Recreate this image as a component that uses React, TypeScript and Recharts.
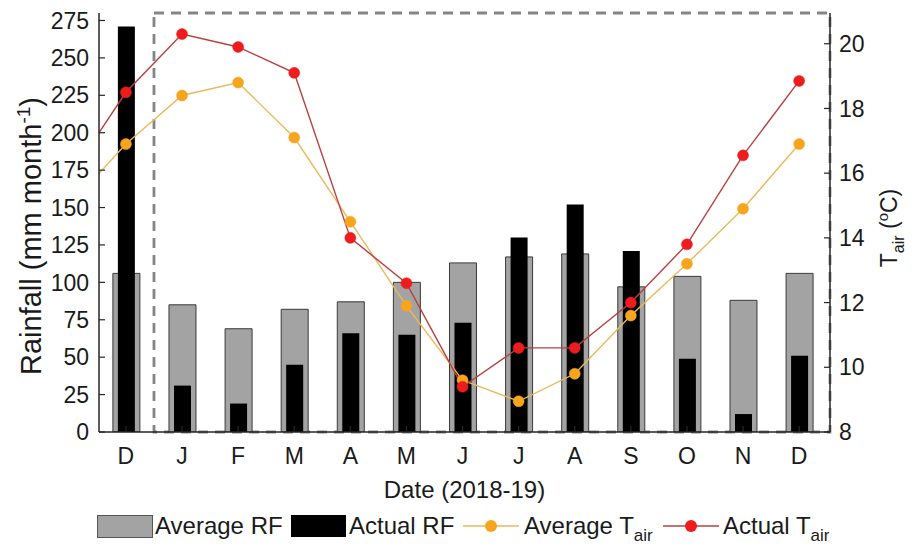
import React from 'react';
import {
  ComposedChart, Bar, Line, XAxis, YAxis, ReferenceArea, Legend, Label,
} from 'recharts';

// ---- data ----
const monthLabels = ['D', 'J', 'F', 'M', 'A', 'M', 'J', 'J', 'A', 'S', 'O', 'N', 'D'];
const monthIndex = [-1, 0, 1, 2, 3, 4, 5, 6, 7, 8, 9, 10, 11, 12]; // -1 = Nov 2017 (only the line stub)
const averageRF = [null, 106, 85, 69, 82, 87, 100, 113, 117, 119, 97, 104, 88, 106];
const actualRF = [null, 271, 31, 19, 45, 66, 65, 73, 130, 152, 121, 49, 12, 51];
const averageTair = [15.0, 16.9, 18.4, 18.8, 17.1, 14.5, 11.9, 9.6, 8.95, 9.8, 11.6, 13.2, 14.9, 16.9];
const actualTair = [15.9, 18.5, 20.3, 19.9, 19.1, 14.0, 12.6, 9.4, 10.6, 10.6, 12.0, 13.8, 16.55, 18.85];
const rfTicks = [0, 25, 50, 75, 100, 125, 150, 175, 200, 225, 250, 275];
const tTicks = [8, 10, 12, 14, 16, 18, 20];
const xTicks = [0, 1, 2, 3, 4, 5, 6, 7, 8, 9, 10, 11, 12];

const rows = monthIndex.map((x, i) => ({
  x,
  avgRF: averageRF[i],
  actRF: actualRF[i],
  avgT: averageTair[i],
  actT: actualTair[i],
}));

const FONT = '"Liberation Sans", Arial, Helvetica, sans-serif';
const TXT = '#1a1a1a';
const AXIS = '#262626';
const GREY = '#a3a3a3';
const ORANGE_DOT = '#f6a51c';
const ORANGE_LINE = '#eab95a';
const RED_DOT = '#ee1c1c';
const RED_LINE = '#b8413f';
const X_DOMAIN: [number, number] = [-0.48, 12.55];

const LeftTitle = () => (
  <text
    transform="translate(41, 236) rotate(-90)"
    textAnchor="middle"
    fontSize={29}
    fontFamily={FONT}
    fill={TXT}
  >
    Rainfall (mm month
    <tspan dy={-11} fontSize={19}>-1</tspan>
    <tspan dy={11}>)</tspan>
  </text>
);

const RightTitle = () => (
  <text
    transform="translate(897, 228) rotate(-90)"
    textAnchor="middle"
    fontSize={23}
    fontFamily={FONT}
    fill={TXT}
  >
    T<tspan dy={7} fontSize={16}>air</tspan>
    <tspan dy={-7}> (</tspan>
    <tspan dy={-9} fontSize={15}>o</tspan>
    <tspan dy={9}>C)</tspan>
  </text>
);

const legendText: React.CSSProperties = {
  position: 'absolute',
  top: 0,
  fontSize: 24,
  lineHeight: '30px',
  fontFamily: FONT,
  color: TXT,
  whiteSpace: 'nowrap',
};

const LineIcon = ({ left, line, dot }: { left: number; line: string; dot: string }) => (
  <svg style={{ position: 'absolute', left, top: 0 }} width={56} height={30}>
    <line x1={0} y1={15} x2={56} y2={15} stroke={line} strokeWidth={1.5} />
    <circle cx={28} cy={15} r={6} fill={dot} />
  </svg>
);

const LegendContent = () => (
  <div style={{ position: 'relative', width: 912, height: 30 }}>
    <div style={{ position: 'absolute', left: 97, top: 4, width: 54, height: 21, background: GREY, border: '1px solid #555' }} />
    <span style={{ ...legendText, left: 155 }}>Average RF</span>
    <div style={{ position: 'absolute', left: 291, top: 4, width: 55, height: 22, background: '#000' }} />
    <span style={{ ...legendText, left: 349 }}>Actual RF</span>
    <LineIcon left={463} line={ORANGE_LINE} dot={ORANGE_DOT} />
    <span style={{ ...legendText, left: 524 }}>
      Average T<sub style={{ fontSize: 17, verticalAlign: -7 }}>air</sub>
    </span>
    <LineIcon left={663} line={RED_LINE} dot={RED_DOT} />
    <span style={{ ...legendText, left: 723 }}>
      Actual T<sub style={{ fontSize: 17, verticalAlign: -7 }}>air</sub>
    </span>
  </div>
);

const tickStyle = { fontSize: 23, fontFamily: FONT, fill: TXT };

export default function App() {
  return (
    <div style={{ position: 'absolute', left: 0, top: 0, width: 912, height: 545, background: '#fff' }}>
      <ComposedChart
        width={912}
        height={545}
        data={rows}
        margin={{ top: 13, right: 0, bottom: 4, left: 0 }}
      >
        <XAxis
          xAxisId="x"
          type="number"
          dataKey="x"
          domain={X_DOMAIN}
          allowDataOverflow
          ticks={xTicks}
          interval={0}
          tickFormatter={(v: number) => monthLabels[v] ?? ''}
          tick={tickStyle}
          tickSize={-6}
          tickMargin={22}
          height={79}
          stroke={AXIS}
          axisLine={{ stroke: AXIS, strokeWidth: 1.5 }}
          tickLine={{ stroke: AXIS, strokeWidth: 1.2 }}
        >
          <Label
            value="Date (2018-19)"
            position="insideBottom"
            offset={13}
            style={{ fontSize: 24, fontFamily: FONT, fill: TXT }}
          />
        </XAxis>
        <XAxis
          xAxisId="top"
          orientation="top"
          type="number"
          dataKey="x"
          domain={X_DOMAIN}
          allowDataOverflow
          ticks={xTicks}
          interval={0}
          tickFormatter={() => ''}
          tickSize={-6}
          height={0}
          axisLine={{ stroke: AXIS, strokeWidth: 1.5 }}
          tickLine={{ stroke: AXIS, strokeWidth: 1.2 }}
        />
        <XAxis
          xAxisId="xb"
          type="number"
          dataKey="x"
          domain={X_DOMAIN}
          allowDataOverflow
          ticks={xTicks}
          hide
        />
        <YAxis
          yAxisId="rf"
          domain={[0, 280]}
          allowDataOverflow
          ticks={rfTicks}
          interval={0}
          width={99}
          tick={tickStyle}
          tickSize={-6}
          tickMargin={16}
          axisLine={{ stroke: AXIS, strokeWidth: 1.5 }}
          tickLine={{ stroke: AXIS, strokeWidth: 1.2 }}
          label={<LeftTitle />}
        />
        <YAxis
          yAxisId="t"
          orientation="right"
          domain={[8, 20.95]}
          allowDataOverflow
          ticks={tTicks}
          interval={0}
          width={82}
          tick={tickStyle}
          tickSize={-6}
          tickMargin={15}
          axisLine={{ stroke: AXIS, strokeWidth: 1.5 }}
          tickLine={{ stroke: AXIS, strokeWidth: 1.2 }}
          label={<RightTitle />}
        />
        <Bar
          xAxisId="x"
          yAxisId="rf"
          dataKey="avgRF"
          name="Average RF"
          fill={GREY}
          stroke="#3a3a3a"
          strokeWidth={1}
          barSize={27}
          isAnimationActive={false}
        />
        <Bar
          xAxisId="xb"
          yAxisId="rf"
          dataKey="actRF"
          name="Actual RF"
          fill="#000"
          barSize={17}
          isAnimationActive={false}
        />
        <ReferenceArea
          xAxisId="x"
          yAxisId="rf"
          x1={0.5}
          x2={X_DOMAIN[1]}
          y1={0}
          y2={280}
          fill="none"
          fillOpacity={0}
          stroke="#858585"
          strokeWidth={2.8}
          strokeDasharray="10 7"
          ifOverflow="visible"
        />
        <Line
          xAxisId="x"
          yAxisId="t"
          dataKey="avgT"
          name="Average Tair"
          stroke={ORANGE_LINE}
          strokeWidth={1.4}
          dot={{ r: 5.5, fill: ORANGE_DOT, stroke: ORANGE_DOT, strokeWidth: 0.5 }}
          isAnimationActive={false}
        />
        <Line
          xAxisId="x"
          yAxisId="t"
          dataKey="actT"
          name="Actual Tair"
          stroke={RED_LINE}
          strokeWidth={1.4}
          dot={{ r: 5.5, fill: RED_DOT, stroke: RED_DOT, strokeWidth: 0.5 }}
          isAnimationActive={false}
        />
        <Legend
          verticalAlign="bottom"
          align="left"
          content={<LegendContent />}
          wrapperStyle={{ left: 0, bottom: 4, width: 912, height: 30 }}
        />
      </ComposedChart>
    </div>
  );
}
